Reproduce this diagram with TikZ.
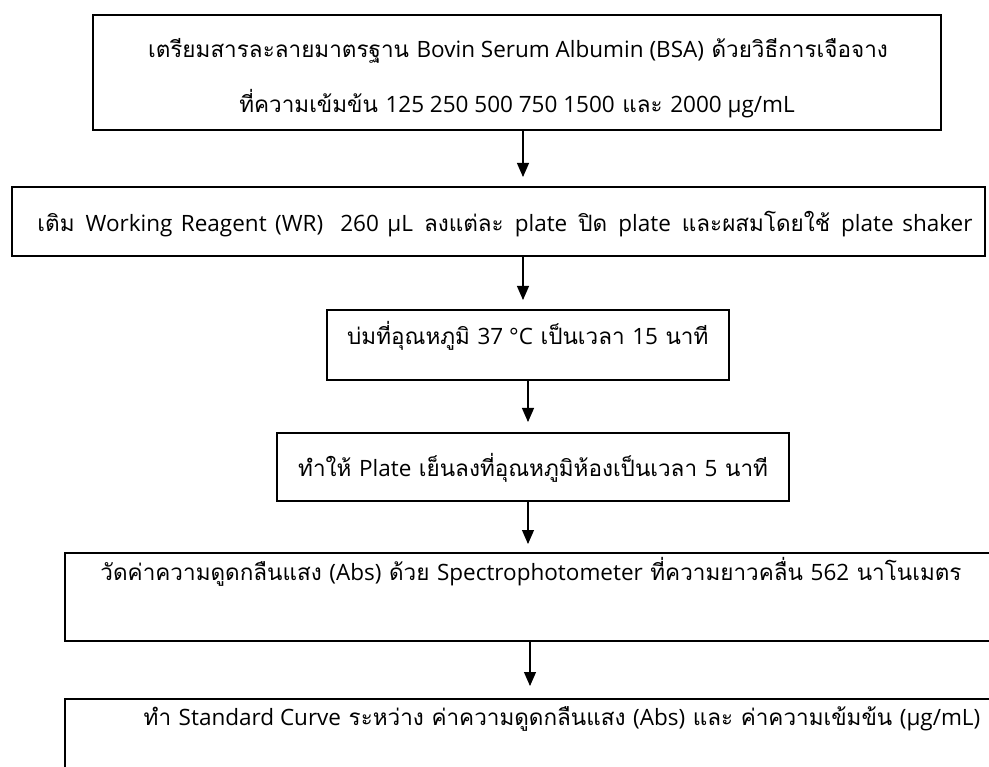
\documentclass[tikz,border=0pt]{standalone}
\usepackage{fontspec}
\setmainfont[Script=Thai]{Loma}
\newfontfamily\lat{Open Sans}
\usetikzlibrary{arrows.meta,fit}
\tikzset{
  box/.style={draw, line width=1.8pt, inner sep=0pt},
  txt/.style={inner sep=0pt, anchor=base, font=\fontsize{22.5}{27}\selectfont},
  arr/.style={line width=1.1pt, -{Triangle[width=12pt,length=14pt]}}
}
\begin{document}
\begin{tikzpicture}[x=1pt,y=-1pt]
\useasboundingbox (0,0) rectangle (989,767);
\clip (0,0) rectangle (989,767);
% box 1
\node[box, minimum width=848pt, minimum height=115pt] (b1) at (517,72.5) {};
\node[txt] (t1a) at (518,58) {เตรียมสารละลายมาตรฐาน {\lat Bovin Serum Albumin (BSA)} ด้วยวิธีการเจือจาง};
\node[txt] (t1b) at (517,113) {ที่ความเข้มข้น {\lat 125 250 500 750 1500} และ {\lat 2000 µg/mL}};
% box 2
\node[box, minimum width=973pt, minimum height=69pt] (b2) at (498.5,221.5) {};
\node[txt] (t2) at (505,232) {\makebox[935pt][s]{เติม {\lat Working Reagent (WR)\ \ 260 µL} ลงแต่ละ {\lat plate} ปิด {\lat plate} และผสมโดยใช้ {\lat plate shaker}}};
% box 3
\node[txt, anchor=base west] (t3) at (347,345) {บ่มที่อุณหภูมิ {\lat 37 °C} เป็นเวลา {\lat 15} นาที};
\coordinate (y3a) at (0,310);
\coordinate (y3b) at (0,380);
\node[box, fit={(t3.west |- y3a) (t3.east |- y3b)}, inner xsep=20pt, inner ysep=0pt] (b3) {};
% box 4
\node[txt, anchor=base west] (t4) at (298,477) {ทำให้ {\lat Plate} เย็นลงที่อุณหภูมิห้องเป็นเวลา {\lat 5} นาที};
\coordinate (y4a) at (0,433);
\coordinate (y4b) at (0,501);
\node[box, fit={(t4.west |- y4a) (t4.east |- y4b)}, inner xsep=21pt, inner ysep=0pt] (b4) {};
% box 5
\node[box, minimum width=935pt, minimum height=88pt] (b5) at (532.5,597) {};
\node[txt] (t5) at (531,580) {วัดค่าความดูดกลืนแสง {\lat (Abs)} ด้วย {\lat Spectrophotometer} ที่ความยาวคลื่น {\lat 562} นาโนเมตร};
% box 6
\node[box, minimum width=935pt, minimum height=101pt] (b6) at (532.5,749.5) {};
\node[txt] (t6) at (562,725) {ทำ {\lat Standard Curve} ระหว่าง ค่าความดูดกลืนแสง {\lat (Abs)} และ ค่าความเข้มข้น {\lat (µg/mL)}};
% arrows
\coordinate (e1) at (523,177);
\coordinate (e2) at (523,300);
\coordinate (e3) at (528,422);
\coordinate (e4) at (528,544);
\coordinate (e5) at (530,686);
\draw[arr] (b1.south -| e1) -- (e1);
\draw[arr] (b2.south -| e2) -- (e2);
\draw[arr] (b3.south -| e3) -- (e3);
\draw[arr] (b4.south -| e4) -- (e4);
\draw[arr] (b5.south -| e5) -- (e5);
\end{tikzpicture}
\end{document}
